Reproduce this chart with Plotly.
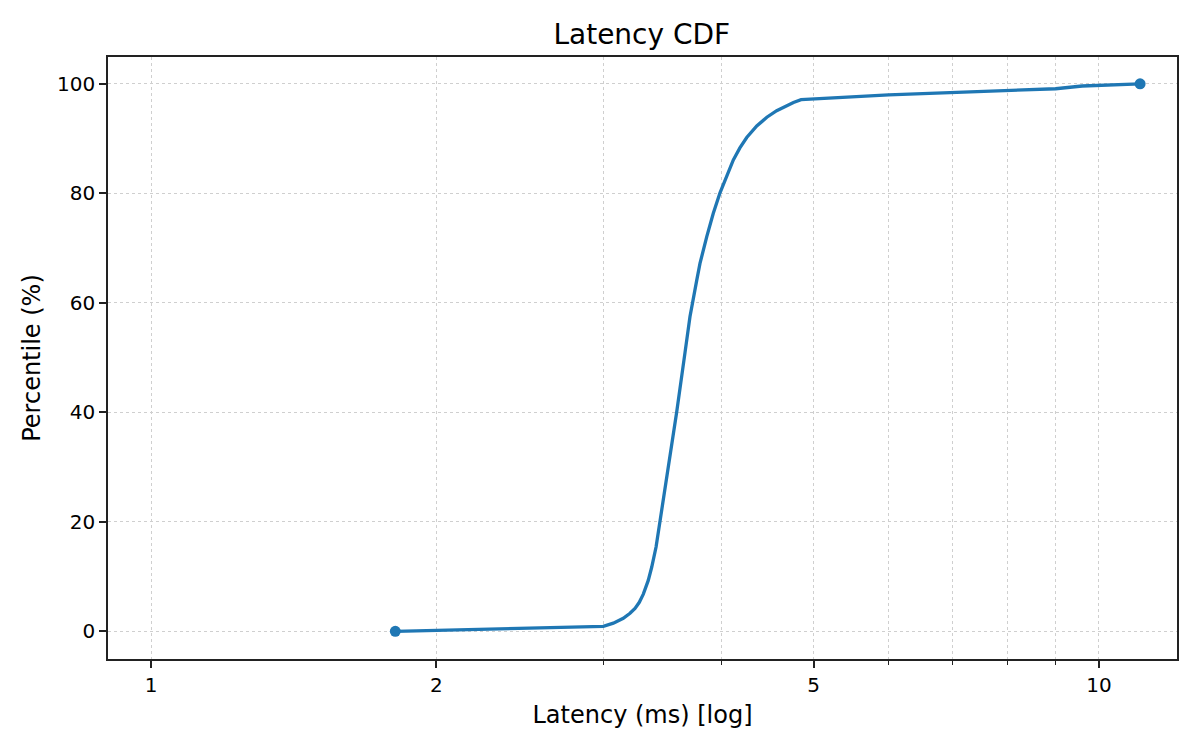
import plotly.graph_objects as go

# latency (ms) at each percentile
latency_ms = [1.81, 3.00, 3.074, 3.149, 3.201, 3.240, 3.274, 3.306, 3.346, 3.374,
              3.41, 3.443, 3.513, 3.585, 3.659, 3.703, 3.764, 3.794, 3.857, 3.918,
              3.983, 4.048, 4.114, 4.18, 4.25, 4.355, 4.463, 4.571, 4.685, 4.761,
              4.85, 6.0, 9.0, 9.6, 11.05]
percentile = [0, 0.9, 1.5, 2.4, 3.3, 4.2, 5.3, 6.8, 9.3, 11.7,
              15.4, 20, 30, 40, 51, 57.5, 64.1, 67.2, 72.1, 76.3,
              80.1, 83.3, 86.1, 88.3, 90.2, 92.3, 93.9, 95.1, 96.1, 96.6,
              97.1, 98, 99.1, 99.6, 100]

x_major = [1, 2, 5, 10]
x_minor = [3, 4, 6, 7, 8, 9]
y_ticks = [0, 20, 40, 60, 80, 100]

blue = "#1f77b4"
grid = "#cfcfcf"
font = "DejaVu Sans"

fig = go.Figure()

# the CDF curve
fig.add_trace(go.Scatter(
    x=latency_ms, y=percentile, mode="lines",
    line=dict(color=blue, width=3.3),
    showlegend=False, hoverinfo="skip"
))

# markers only at the first and last point
fig.add_trace(go.Scatter(
    x=[latency_ms[0], latency_ms[-1]], y=[percentile[0], percentile[-1]],
    mode="markers", marker=dict(color=blue, size=11),
    showlegend=False
))

# page has an 8px body margin, so the figure is 1184x734
fig.update_layout(
    width=1184, height=734,
    paper_bgcolor="white", plot_bgcolor="white",
    margin=dict(l=100, r=15, t=49, b=83),
    font=dict(family=font, color="black", size=20),
    title=dict(text="Latency CDF", x=0.5353, xanchor="center",
               y=0.964, yanchor="middle", font=dict(size=28)),
)

fig.update_xaxes(
    type="log", range=[-0.0454, 1.0823],
    tickvals=x_major, ticktext=[str(v) for v in x_major],
    ticks="outside", ticklen=7, tickwidth=1.5, tickcolor="#222",
    showline=True, linecolor="#222", linewidth=1.6, mirror=True,
    showgrid=True, gridcolor=grid, griddash="dot", gridwidth=1,
    minor=dict(tickvals=x_minor, ticks="outside", ticklen=4, tickwidth=1.2,
               tickcolor="#222", showgrid=True, gridcolor=grid,
               griddash="dot", gridwidth=1),
    zeroline=False,
    title=dict(text="Latency (ms) [log]", font=dict(size=24), standoff=10),
    tickfont=dict(size=20),
)

fig.update_yaxes(
    range=[-5.05, 104.9],
    tickvals=y_ticks,
    ticks="outside", ticklen=7, tickwidth=1.5, tickcolor="#222",
    showline=True, linecolor="#222", linewidth=1.6, mirror=True,
    showgrid=True, gridcolor=grid, griddash="dot", gridwidth=1,
    zeroline=False,
    title=dict(text="Percentile (%)", font=dict(size=24), standoff=10),
    tickfont=dict(size=20),
)

fig.write_html("out.html")
